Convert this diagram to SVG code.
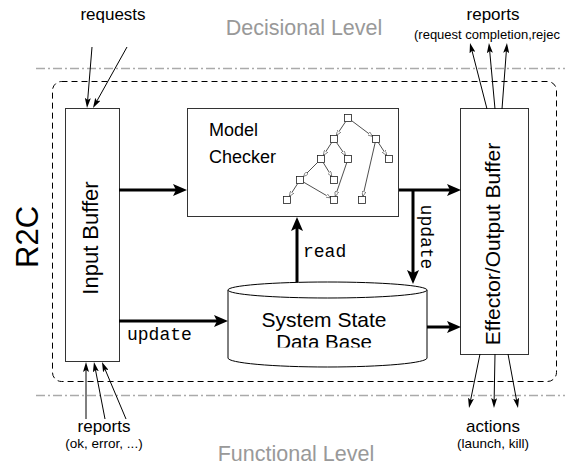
<svg xmlns="http://www.w3.org/2000/svg" width="565" height="466" viewBox="0 0 565 466">
<style>
.sans{font-family:"Liberation Sans",Arial,sans-serif;fill:#000}
.mono{font-family:"Liberation Mono","Courier New",monospace;font-size:18px;fill:#000}
.lvl{font-family:"Liberation Sans",Arial,sans-serif;font-size:21.5px;fill:#999;text-anchor:middle}
.box{fill:#fff;stroke:#333;stroke-width:1}
.thick{stroke:#000;stroke-width:3;fill:none}
.thin{stroke:#000;stroke-width:1;fill:none}
.tree{stroke:#222;stroke-width:0.8;fill:none}
.sq{fill:#fff;stroke:#222;stroke-width:0.8}
.dd{stroke:#aaa;stroke-width:1.5;stroke-dasharray:9 3 2 3;fill:none}
</style>
<defs>
<marker id="ah" markerUnits="userSpaceOnUse" markerWidth="14" markerHeight="12" refX="6" refY="6" orient="auto">
<path d="M0,0 L14,6 L0,12 L3,6 z" fill="#000"/>
</marker>
<marker id="as" markerUnits="userSpaceOnUse" markerWidth="10" markerHeight="6" refX="4" refY="3" orient="auto">
<path d="M0,0 L10,3 L0,6 L2,3 z" fill="#000"/>
</marker>
<marker id="at" markerUnits="userSpaceOnUse" markerWidth="5" markerHeight="4" refX="5" refY="2" orient="auto">
<path d="M0,0 L5,2 L0,4 z" fill="#fff" stroke="#222" stroke-width="0.5"/>
</marker>
<clipPath id="dbclip"><rect x="228" y="300" width="200" height="47.5"/></clipPath>
</defs>

<g id="levels">
<line class="dd" x1="36" y1="68.5" x2="565" y2="68.5"/>
<line class="dd" x1="36" y1="395.5" x2="565" y2="395.5"/>
<text class="lvl" x="304" y="35">Decisional Level</text>
<text class="lvl" x="296" y="461">Functional Level</text>
</g>

<g id="r2c">
<rect x="52.5" y="81.5" width="504" height="300" rx="9" fill="none" stroke="#000" stroke-width="1" stroke-dasharray="6 4"/>
<text class="sans" font-size="31" text-anchor="middle" transform="translate(38,237) rotate(-90)">R2C</text>
</g>

<g id="input-buffer">
<rect class="box" x="65.5" y="108.5" width="54" height="253"/>
<text class="sans" font-size="22" text-anchor="middle" transform="translate(98,238) rotate(-90)">Input Buffer</text>
</g>

<g id="model-checker">
<rect class="box" x="187.5" y="108.5" width="211" height="108"/>
<text class="sans" font-size="18" x="209" y="136">Model</text>
<text class="sans" font-size="18" x="209" y="163">Checker</text>
<g id="tree">
<line class="tree" marker-end="url(#at)" x1="345.7" y1="121.5" x2="336.3" y2="135.5"/>
<line class="tree" marker-end="url(#at)" x1="351.5" y1="120.6" x2="372.5" y2="136.4"/>
<line class="tree" marker-end="url(#at)" x1="331.7" y1="142.5" x2="323.3" y2="155.5"/>
<line class="tree" marker-end="url(#at)" x1="336.5" y1="142.5" x2="345.5" y2="155.5"/>
<line class="tree" marker-end="url(#at)" x1="378.3" y1="142.5" x2="386.7" y2="155.5"/>
<line class="tree" marker-end="url(#at)" x1="375.2" y1="142.5" x2="362.8" y2="196.5"/>
<line class="tree" marker-end="url(#at)" x1="317.5" y1="162.5" x2="303.5" y2="176.5"/>
<line class="tree" marker-end="url(#at)" x1="323.2" y1="162.5" x2="331.8" y2="176.5"/>
<line class="tree" marker-end="url(#at)" x1="346.8" y1="162.5" x2="335.2" y2="196.5"/>
<line class="tree" marker-end="url(#at)" x1="297.7" y1="183.5" x2="289.3" y2="196.5"/>
<line class="tree" marker-end="url(#at)" x1="303.5" y1="182.1" x2="330.5" y2="197.9"/>
<rect class="sq" x="344.5" y="114.5" width="7" height="7"/>
<rect class="sq" x="330.5" y="135.5" width="7" height="7"/>
<rect class="sq" x="372.5" y="135.5" width="7" height="7"/>
<rect class="sq" x="317.5" y="155.5" width="7" height="7"/>
<rect class="sq" x="344.5" y="155.5" width="7" height="7"/>
<rect class="sq" x="385.5" y="155.5" width="7" height="7"/>
<rect class="sq" x="296.5" y="176.5" width="7" height="7"/>
<rect class="sq" x="330.5" y="176.5" width="7" height="7"/>
<rect class="sq" x="283.5" y="196.5" width="7" height="7"/>
<rect class="sq" x="330.5" y="196.5" width="7" height="7"/>
<rect class="sq" x="358.5" y="196.5" width="7" height="7"/>
</g>
</g>

<g id="effector-buffer">
<rect class="box" x="460.5" y="108.5" width="68" height="246"/>
<text class="sans" font-size="21" text-anchor="middle" transform="translate(500,244) rotate(-90)">Effector/Output Buffer</text>
</g>

<g id="database">
<path d="M228,290 L228,358 A99.5,9 0 0 0 427,358 L427,290" fill="#fff" stroke="#000" stroke-width="1"/>
<ellipse cx="327.5" cy="290" rx="99.5" ry="8" fill="#fff" stroke="#000" stroke-width="1"/>
<text class="sans" font-size="21" text-anchor="middle" x="324" y="327">System State</text>
<text class="sans" font-size="20.5" text-anchor="middle" x="324" y="349" clip-path="url(#dbclip)">Data Base</text>
</g>

<g id="connectors">
<line class="thick" marker-end="url(#ah)" x1="119" y1="190" x2="179" y2="190"/>
<line class="thick" marker-end="url(#ah)" x1="119" y1="321" x2="220" y2="321"/>
<line class="thick" marker-end="url(#ah)" x1="297" y1="282" x2="297" y2="225"/>
<line class="thick" marker-end="url(#ah)" x1="399" y1="190" x2="453" y2="190"/>
<line class="thick" marker-end="url(#ah)" x1="413" y1="190" x2="413" y2="276"/>
<line class="thick" marker-end="url(#ah)" x1="427" y1="327" x2="453" y2="327"/>
<text class="mono" x="127" y="340">update</text>
<text class="mono" x="303" y="257">read</text>
<text class="mono" text-anchor="middle" transform="translate(421,237) rotate(90)">update</text>

<line class="thin" marker-end="url(#as)" x1="92" y1="47" x2="87.5" y2="102"/>
<line class="thin" marker-end="url(#as)" x1="127" y1="47" x2="95.9" y2="102.8"/>
<line class="thin" marker-end="url(#as)" x1="487" y1="109" x2="471.5" y2="48.8"/>
<line class="thin" marker-end="url(#as)" x1="495" y1="109" x2="489.5" y2="49"/>
<line class="thin" marker-end="url(#as)" x1="502" y1="109" x2="506.5" y2="49"/>
<line class="thin" marker-end="url(#as)" x1="86" y1="419" x2="86" y2="368"/>
<line class="thin" marker-end="url(#as)" x1="105" y1="419" x2="95.1" y2="367.9"/>
<line class="thin" marker-end="url(#as)" x1="126" y1="419" x2="104.3" y2="367.5"/>
<line class="thin" marker-end="url(#as)" x1="480" y1="354" x2="470.2" y2="402.1"/>
<line class="thin" marker-end="url(#as)" x1="495" y1="354" x2="494.1" y2="402"/>
<line class="thin" marker-end="url(#as)" x1="508" y1="354" x2="516.9" y2="402.1"/>
</g>

<g id="labels">
<text class="sans" font-size="17" text-anchor="middle" x="113" y="20">requests</text>
<text class="sans" font-size="17" text-anchor="middle" x="493" y="20">reports</text>
<text class="sans" font-size="13" x="414" y="39">(request completion,rejec</text>
<text class="sans" font-size="17" text-anchor="middle" x="104" y="432">reports</text>
<text class="sans" font-size="13.5" text-anchor="middle" x="104" y="448">(ok, error, ...)</text>
<text class="sans" font-size="17" text-anchor="middle" x="493" y="432">actions</text>
<text class="sans" font-size="13.5" text-anchor="middle" x="493" y="448">(launch, kill)</text>
</g>
</svg>
